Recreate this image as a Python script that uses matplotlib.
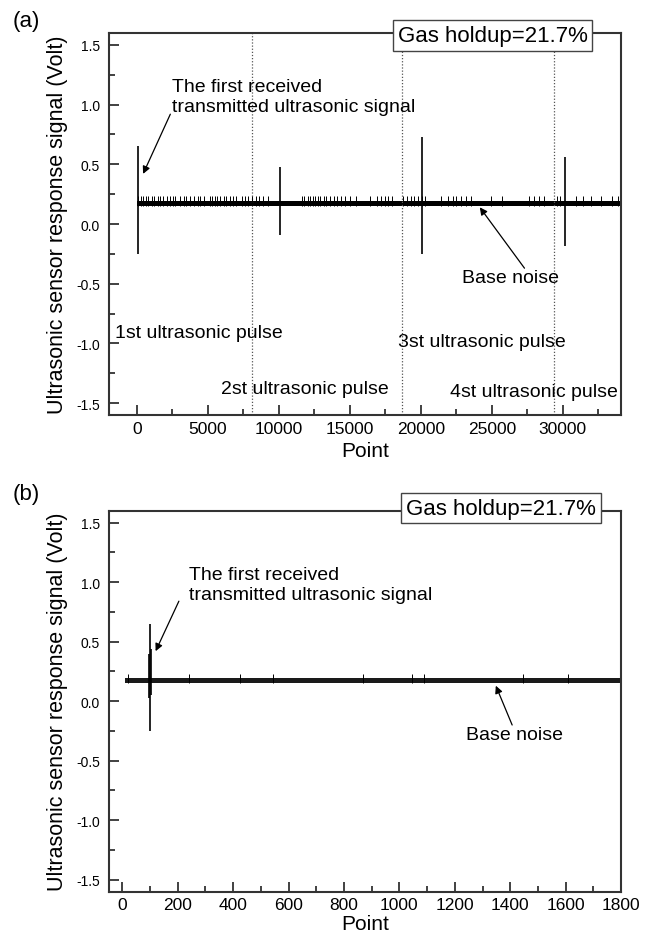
import matplotlib
matplotlib.use("Agg")
import matplotlib.pyplot as plt
from matplotlib.ticker import MultipleLocator

plt.rcParams['font.family'] = ['Liberation Sans', 'DejaVu Sans']
plt.rcParams['axes.unicode_minus'] = False

# ---- panel (a) data ----
a_pulse_x = [50, 10100, 20100, 30150]
a_pulse_lo = [-0.25, -0.09, -0.25, -0.18]
a_pulse_hi = [0.65, 0.48, 0.73, 0.56]
a_band = [0, 34100]
a_base_lo, a_base_hi = 0.155, 0.195
a_noise_top = 0.235
a_noise_x = [87, 262, 436, 610, 785, 1046, 1221, 1482, 1657, 1831, 2093, 2354,
             2529, 2703, 3052, 3314, 3488, 3750, 4011, 4273, 4447, 4709, 5145,
             5319, 5494, 5668, 5842, 6104, 6278, 6540, 6802, 6976, 7412, 7586,
             7848, 8110, 8371, 8633, 8894, 9243, 11598, 11772, 12034, 12208,
             12382, 12557, 12731, 12906, 13167, 13342, 13603, 13865, 14126,
             14388, 14650, 14998, 15434, 16394, 16917, 17178, 17440, 17702,
             17963, 18748, 19010, 19272, 19533, 19795, 20056, 20318, 21451,
             21887, 22236, 22498, 22846, 23195, 23544, 24939, 25724, 27642,
             27991, 28340, 28689, 29561, 29822, 30956, 31392, 32002, 32700,
             33485, 33921]
a_dividers = [8100, 18700, 29350]
a_pulse_labels = ["1st ultrasonic pulse", "2st ultrasonic pulse",
                  "3st ultrasonic pulse", "4st ultrasonic pulse"]
a_label_x = [-1570, 5930, 18400, 22060]
a_label_y = [-0.91, -1.38, -0.98, -1.40]

# ---- panel (b) data ----
b_pulse_x = [97, 100, 103]
b_pulse_lo = [0.03, -0.25, 0.05]
b_pulse_hi = [0.40, 0.65, 0.44]
b_band = [8, 1800]
b_base_lo, b_base_hi = 0.155, 0.195
b_noise_top = 0.23
b_noise_x = [22, 240, 423, 542, 870, 1044, 1088, 1446, 1610]

holdup_text = "Gas holdup=21.7%"
first_text = "The first received\ntransmitted ultrasonic signal"
ylab = "Ultrasonic sensor response signal (Volt)"

fig = plt.figure(figsize=(6.49, 9.37), dpi=100)
ax_a = fig.add_axes([0.1672, 0.556, 0.7897, 0.4077])
ax_b = fig.add_axes([0.1672, 0.0473, 0.7897, 0.4066])

spine_col = '#333333'


def style_axes(ax, xmaj, xmin, xpad):
    ax.set_ylim(-1.6, 1.6)
    ax.yaxis.set_major_locator(MultipleLocator(0.5))
    ax.yaxis.set_minor_locator(MultipleLocator(0.25))
    ax.xaxis.set_major_locator(MultipleLocator(xmaj))
    ax.xaxis.set_minor_locator(MultipleLocator(xmin))
    ax.tick_params(which='both', direction='in', top=False, right=False,
                   color=spine_col, width=1.3)
    ax.tick_params(which='major', length=7)
    ax.tick_params(which='minor', length=4)
    ax.tick_params(axis='x', which='major', labelsize=12.5, pad=4)
    ax.tick_params(axis='y', which='major', labelsize=10, pad=6)
    for s in ax.spines.values():
        s.set_linewidth(1.5)
        s.set_color(spine_col)
    ax.set_xlabel("Point", fontsize=15, labelpad=xpad)
    ax.set_ylabel(ylab, fontsize=15.5, labelpad=6)


# panel (a)
ax = ax_a
ax.set_xlim(-2000, 34100)
style_axes(ax, 5000, 2500, 4)
for d in a_dividers:
    ax.axvline(d, color='#555555', lw=0.9, ls=(0, (1, 1.5)))
ax.fill_between(a_band, a_base_lo, a_base_hi, color='black', lw=0)
ax.vlines(a_noise_x, a_base_lo, a_noise_top, color='black', lw=0.7)
ax.vlines(a_pulse_x, a_pulse_lo, a_pulse_hi, color='black', lw=1.2)
ax.text(2440, 1.07, first_text, fontsize=14, va='center', ha='left', linespacing=1.25)
ax.annotate("", xy=(436, 0.42), xytext=(2354, 0.92),
            arrowprops=dict(arrowstyle='-|>', color='black', lw=0.9,
                            mutation_scale=11, shrinkA=0, shrinkB=0))
ax.text(26330, -0.45, "Base noise", fontsize=14, ha='center', va='center')
ax.annotate("", xy=(24150, 0.14), xytext=(27300, -0.37),
            arrowprops=dict(arrowstyle='-|>', color='black', lw=0.9,
                            mutation_scale=11, shrinkA=0, shrinkB=0))
for t, x, y in zip(a_pulse_labels, a_label_x, a_label_y):
    ax.text(x, y, t, fontsize=14, ha='left', va='center')
ax.text(0.7495, 0.993, holdup_text, transform=ax.transAxes, fontsize=16,
        ha='center', va='center',
        bbox=dict(boxstyle='square,pad=0.22', fc='white', ec='#444444', lw=1.0))

# panel (b)
ax = ax_b
ax.set_xlim(-50, 1800)
style_axes(ax, 200, 100, 1)
ax.fill_between(b_band, b_base_lo, b_base_hi, color='#1a1a1a', lw=0)
ax.vlines(b_noise_x, b_base_lo, b_noise_top, color='black', lw=0.7)
ax.vlines(b_pulse_x, b_pulse_lo, b_pulse_hi, color='black', lw=1.2)
ax.text(239, 0.98, first_text, fontsize=14, va='center', ha='left', linespacing=1.25)
ax.annotate("", xy=(120, 0.42), xytext=(204, 0.84),
            arrowprops=dict(arrowstyle='-|>', color='black', lw=0.9,
                            mutation_scale=11, shrinkA=0, shrinkB=0))
ax.text(1416, -0.28, "Base noise", fontsize=14, ha='center', va='center')
ax.annotate("", xy=(1348, 0.13), xytext=(1407, -0.2),
            arrowprops=dict(arrowstyle='-|>', color='black', lw=0.9,
                            mutation_scale=11, shrinkA=0, shrinkB=0))
ax.text(0.766, 1.007, holdup_text, transform=ax.transAxes, fontsize=16,
        ha='center', va='center',
        bbox=dict(boxstyle='square,pad=0.22', fc='white', ec='#444444', lw=1.0))

fig.text(0.02, 0.977, "(a)", fontsize=16, ha='left', va='center')
fig.text(0.02, 0.472, "(b)", fontsize=16, ha='left', va='center')

fig.savefig("out.png", dpi=100)
